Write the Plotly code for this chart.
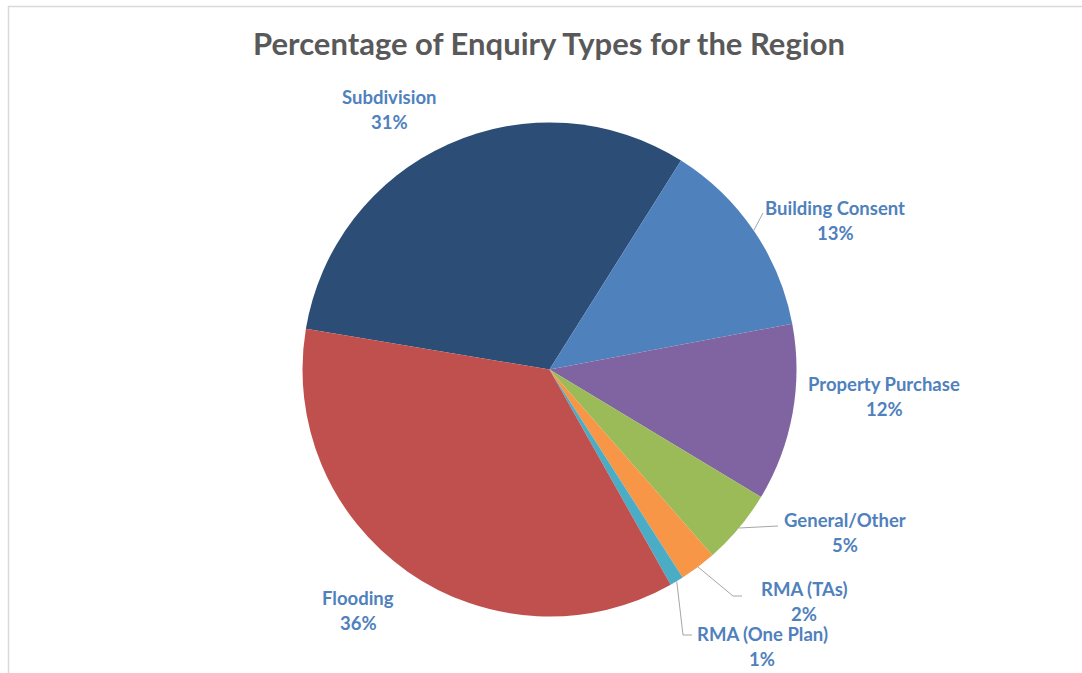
import math
import plotly.graph_objects as go

# ---- data ----
categories = ["Subdivision", "Building Consent", "Property Purchase", "General/Other",
              "RMA (TAs)", "RMA (One Plan)", "Flooding"]
values = [31.3, 13.1, 11.6, 4.9, 2.4, 0.9, 35.8]
colors = ["#2C4D75", "#4F81BD", "#8064A2", "#9BBB59", "#F79646", "#4BACC6", "#C0504D"]
title_text = "Percentage of Enquiry Types for the Region"

# ---- layout / style ----
W, H = 1082, 673
CX, CY, R = 549.5, 369.5, 247.0
ROTATION = 279.5
LABEL_COLOR = "#4F81BD"
FONT = "Lato"
LABEL_SIZE = 18.5

# label anchor (center of name line) in pixels, and optional leader elbows
label_pos = {
    "Subdivision": (389, 97),
    "Building Consent": (835, 208),
    "Property Purchase": (884, 384),
    "General/Other": (845, 520),
    "RMA (TAs)": (804, 589),
    "RMA (One Plan)": (762, 634),
    "Flooding": (358, 598),
}
leaders = {
    "Building Consent": [(763, 213)],
    "General/Other": [(778, 526)],
    "RMA (TAs)": [(733, 596), (742, 596)],
    "RMA (One Plan)": [(683, 635), (692, 635)],
}


def px(x):
    return x / W


def py(y):
    return 1 - y / H


fig = go.Figure(go.Pie(
    labels=categories,
    values=values,
    sort=False,
    direction="clockwise",
    rotation=ROTATION - 360,
    marker=dict(colors=colors, line=dict(width=0)),
    textinfo="none",
    hoverinfo="label+percent",
    showlegend=False,
    domain=dict(x=[px(CX - R), px(CX + R)], y=[py(CY + R), py(CY - R)]),
))

total = sum(values)
annotations = []
shapes = []
cum = 0.0
for name, v in zip(categories, values):
    mid = ROTATION + (cum + v / 2) / total * 360
    cum += v
    lx, ly = label_pos[name]
    pct = f"{round(v / total * 100)}%"
    annotations.append(dict(x=px(lx), y=py(ly), xref="paper", yref="paper",
                            text=f"<b>{name}</b>", showarrow=False,
                            xanchor="center", yanchor="middle",
                            font=dict(family=FONT, size=LABEL_SIZE, color=LABEL_COLOR)))
    annotations.append(dict(x=px(lx), y=py(ly + 25), xref="paper", yref="paper",
                            text=f"<b>{pct}</b>", showarrow=False,
                            xanchor="center", yanchor="middle",
                            font=dict(family=FONT, size=LABEL_SIZE, color=LABEL_COLOR)))
    if name in leaders:
        a = math.radians(mid)
        sx, sy = CX + R * math.sin(a), CY - R * math.cos(a)
        pts = [(sx, sy)] + leaders[name]
        path = "M " + " L ".join(f"{px(x)},{py(y)}" for x, y in pts)
        shapes.append(dict(type="path", xref="paper", yref="paper", path=path,
                           line=dict(color="#A6A6A6", width=1)))

# outer chart frame
shapes.append(dict(type="rect", xref="paper", yref="paper",
                   x0=px(8.5), x1=px(W + 5), y0=py(H + 5), y1=py(6.5),
                   line=dict(color="#D9D9D9", width=1.5), fillcolor="rgba(0,0,0,0)"))

fig.update_layout(
    width=W, height=H,
    margin=dict(l=0, r=0, t=0, b=0),
    paper_bgcolor="white", plot_bgcolor="white",
    title=dict(text=f"<b>{title_text}</b>", x=px(549), y=py(44), xanchor="center",
               yanchor="middle", font=dict(family=FONT, size=31, color="#595959")),
    annotations=annotations,
    shapes=shapes,
)

fig.write_html("out.html",
               config={"displayModeBar": False},
               post_script="document.body.style.margin='0';document.body.style.padding='0';")
